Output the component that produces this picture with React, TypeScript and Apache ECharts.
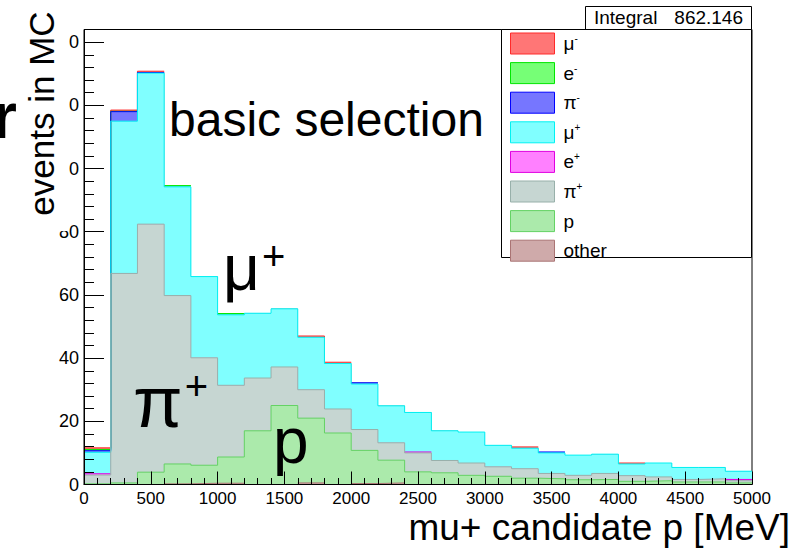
import React, { useEffect, useRef } from "react";
import * as echarts from "echarts";

// Histogram binning: 25 bins of 200 MeV from 0 to 5000 MeV
const binEdges = [
  0, 200, 400, 600, 800, 1000, 1200, 1400, 1600, 1800, 2000, 2200, 2400,
  2600, 2800, 3000, 3200, 3400, 3600, 3800, 4000, 4200, 4400, 4600, 4800, 5000,
];

// Events per bin for each true particle species of the mu+ candidate
const muMinusCounts = [0.5, 0.4, 0.4, 0, 0, 0, 0, 0, 0.4, 0.4, 0, 0, 0, 0, 0, 0, 0.4, 0, 0, 0, 0.3, 0, 0, 0, 0];
const eMinusCounts = [0.4, 0.1, 0, 0.4, 0, 0.4, 0, 0, 0, 0, 0, 0, 0, 0, 0, 0, 0, 0, 0, 0, 0, 0, 0, 0, 0];
const piMinusCounts = [0.5, 3.0, 0.2, 0, 0, 0, 0, 0, 0, 0, 0.4, 0, 0, 0, 0, 0, 0, 0.3, 0, 0, 0, 0, 0, 0, 0];
const muPlusCounts = [6.8, 48.2, 47.8, 34.4, 25.7, 22.3, 20.5, 18.4, 16.6, 14.4, 14.4, 11.7, 12.5, 9.4, 9.8, 6.8, 6.5, 6.5, 6.4, 6.1, 3.7, 4.4, 3.8, 3.6, 2.6];
const ePlusCounts = [0.4, 0, 0, 0, 0, 0, 0, 0, 0, 0, 0, 0, 0.3, 0, 0, 0, 0, 0, 0, 0, 0, 0, 0, 0, 0.4];
const piPlusCounts = [2.8, 66.3, 78.5, 53.3, 34.0, 22.7, 16.7, 12.2, 9.0, 7.6, 6.6, 5.5, 6.0, 3.9, 3.9, 3.0, 3.0, 1.7, 1.4, 1.9, 1.8, 1.2, 0.8, 1.0, 0.7];
const protonCounts = [0.2, 0.5, 3.9, 6.3, 5.7, 8.3, 17.0, 25.0, 20.5, 16.3, 10.5, 7.2, 4.0, 3.7, 2.9, 2.6, 2.0, 1.8, 1.5, 1.6, 1.0, 1.2, 0.8, 0.8, 0.5];
const otherCounts = [0, 0, 0, 0.2, 0.4, 0.4, 0, 0, 0.5, 0, 0.3, 0.5, 0, 0, 0, 0, 0, 0, 0, 0, 0, 0, 0, 0, 0];

const integralText = "862.146";

// Legend order (top of the stack first); the last entry sits at the bottom.
const layers = [
  { name: "μ-", values: muMinusCounts, fill: "#ff7676", edge: "#ff2a2a" },
  { name: "e-", values: eMinusCounts, fill: "#76ff76", edge: "#00e600" },
  { name: "π-", values: piMinusCounts, fill: "#7676ff", edge: "#0000ff" },
  { name: "μ+", values: muPlusCounts, fill: "#80ffff", edge: "#00f2f2" },
  { name: "e+", values: ePlusCounts, fill: "#ff80ff", edge: "#e000e0" },
  { name: "π+", values: piPlusCounts, fill: "#c6d6d2", edge: "#98b0aa" },
  { name: "p", values: protonCounts, fill: "#abeaab", edge: "#64d264" },
  { name: "other", values: otherCounts, fill: "#cfaaaa", edge: "#aa7474" },
];

const legendRich: Record<string, string> = {
  "μ-": "{t|μ}{s|-}",
  "e-": "{t|e}{s|-}",
  "π-": "{t|π}{s|-}",
  "μ+": "{t|μ}{s|+}",
  "e+": "{t|e}{s|+}",
  "π+": "{t|π}{s|+}",
  p: "{t|p}",
  other: "{t|other}",
};

const FONT = "'Liberation Sans', Arial, Helvetica, sans-serif";

export default function App() {
  const ref = useRef<HTMLDivElement>(null);

  useEffect(() => {
    if (!ref.current) return;
    const chart = echarts.init(ref.current, undefined, { renderer: "svg" });

    const nBins = binEdges.length - 1;
    // THStack-style drawing: each layer is painted as the cumulative sum of itself
    // and everything below it, from the top layer down, so lower layers cover upper ones.
    const cumulative = layers.map((_, i) => {
      const out: number[] = [];
      for (let b = 0; b < nBins; b++) {
        let s = 0;
        for (let k = i; k < layers.length; k++) s += layers[k].values[b];
        out.push(Math.round(s * 1000) / 1000);
      }
      return out;
    });

    const areaSeries = layers.map((layer, i) => {
      const cum = cumulative[i];
      const pts: [number, number][] = cum.map((v, b) => [binEdges[b], v]);
      pts.push([binEdges[nBins], cum[nBins - 1]]);
      return {
        type: "line",
        name: layer.name,
        step: "end",
        symbol: "none",
        showSymbol: false,
        data: pts,
        lineStyle: { width: 0, color: layer.fill },
        itemStyle: { color: layer.fill },
        areaStyle: { color: layer.fill, opacity: 1 },
        emphasis: { disabled: true },
        silent: true,
        z: 2,
      };
    });

    // Histogram outlines: only where a layer actually adds entries, since elsewhere
    // its edge coincides with the layer underneath.
    const outlineSeries = layers.map((layer, i) => {
      const cum = cumulative[i];
      const vals = layer.values;
      const pts: any[] = [];
      let open = false;
      for (let b = 0; b < nBins; b++) {
        if (vals[b] > 0) {
          if (!open && pts.length) pts.push([binEdges[b], "-"]);
          pts.push([binEdges[b], cum[b]]);
          pts.push([binEdges[b + 1], cum[b]]);
          open = true;
        } else {
          open = false;
        }
      }
      return {
        type: "line",
        name: layer.name + " edge",
        symbol: "none",
        showSymbol: false,
        connectNulls: false,
        data: pts,
        lineStyle: { color: layer.edge, width: 1 },
        itemStyle: { color: layer.edge },
        emphasis: { disabled: true },
        silent: true,
        z: 3,
      };
    });

    const option: any = {
      animation: false,
      backgroundColor: "#ffffff",
      grid: {
        left: 84,
        right: 42,
        top: 29.5,
        bottom: 68.5,
        show: true,
        borderColor: "#000",
        borderWidth: 1,
        backgroundColor: "transparent",
      },
      xAxis: [
        {
          type: "value",
          min: 0,
          max: 5000,
          interval: 500,
          z: 10,
          axisLine: { show: true, lineStyle: { color: "#000", width: 1 } },
          axisTick: { show: true, inside: true, length: 13, lineStyle: { color: "#000", width: 1 } },
          minorTick: { show: true, splitNumber: 5, length: 6.5, lineStyle: { color: "#000", width: 1 } },
          splitLine: { show: false },
          minorSplitLine: { show: false },
          axisLabel: {
            color: "#000",
            fontFamily: FONT,
            fontSize: 17,
            lineHeight: 17,
            margin: 5,
            formatter: (v: number) => String(v),
          },
        },
      ],
      yAxis: [
        {
          type: "value",
          min: 0,
          max: 144,
          interval: 20,
          z: 10,
          axisLine: { show: true, lineStyle: { color: "#000", width: 1 } },
          axisTick: { show: true, inside: true, length: 20, lineStyle: { color: "#000", width: 1 } },
          splitLine: { show: false },
          axisLabel: {
            color: "#000",
            fontFamily: FONT,
            fontSize: 18,
            margin: 5,
            showMaxLabel: false,
            formatter: (v: number) => String(v),
          },
        },
        {
          // minor ticks every 4 events
          type: "value",
          min: 0,
          max: 144,
          interval: 4,
          z: 10,
          position: "left",
          axisLine: { show: false },
          axisTick: { show: true, inside: true, length: 10, lineStyle: { color: "#000", width: 1 } },
          splitLine: { show: false },
          axisLabel: { show: false },
        },
      ],
      legend: {
        orient: "vertical",
        left: 510,
        top: 32.5,
        padding: 0,
        itemWidth: 44,
        itemHeight: 21,
        itemGap: 7.6,
        selectedMode: false,
        z: 20,
        data: layers.map((l) => ({
          name: l.name,
          icon: "rect",
          itemStyle: { color: l.fill, borderColor: l.edge, borderWidth: 1 },
        })),
        formatter: (name: string) => legendRich[name] ?? name,
        textStyle: {
          padding: [0, 0, 0, 4],
          rich: {
            t: { fontFamily: FONT, fontSize: 19, lineHeight: 20, color: "#000" },
            s: { fontFamily: FONT, fontSize: 10, lineHeight: 10, verticalAlign: "top", color: "#000" },
          },
        },
      },
      graphic: [
        // statistics box
        {
          type: "rect",
          z: 15,
          shape: { x: 585.5, y: 6.5, width: 166, height: 23 },
          style: { fill: "#fff", stroke: "#000", lineWidth: 1 },
        },
        {
          type: "text",
          z: 16,
          x: 594,
          y: 17,
          style: { text: "Integral", fontFamily: FONT, fontSize: 19, fill: "#000", align: "left", verticalAlign: "middle" },
        },
        {
          type: "text",
          z: 16,
          x: 743,
          y: 17,
          style: { text: integralText, fontFamily: FONT, fontSize: 19, fill: "#000", align: "right", verticalAlign: "middle" },
        },
        // legend frame
        {
          type: "rect",
          z: 15,
          shape: { x: 501.5, y: 29.5, width: 250, height: 228 },
          style: { fill: "#fff", stroke: "#000", lineWidth: 1 },
        },
        // y-axis title panel over the tick labels
        {
          type: "rect",
          z: 100,
          shape: { x: 14, y: 0, width: 55, height: 231 },
          style: { fill: "#fff" },
        },
        {
          type: "text",
          z: 101,
          x: 41,
          y: 113.5,
          rotation: Math.PI / 2,
          style: { text: "events in MC", fontFamily: FONT, fontSize: 35, fill: "#000", align: "center", verticalAlign: "middle" },
        },
        {
          type: "text",
          z: 101,
          x: -8,
          y: 116,
          style: { text: "r", fontFamily: FONT, fontWeight: "bold", fontSize: 64, fill: "#000", align: "left", verticalAlign: "middle" },
        },
        // annotations
        {
          type: "text",
          z: 30,
          x: 169,
          y: 119,
          style: { text: "basic selection", fontFamily: FONT, fontSize: 48, fill: "#000", align: "left", verticalAlign: "middle" },
        },
        {
          type: "text",
          z: 30,
          x: 223,
          y: 268,
          style: {
            text: "{g|μ}{s|+}",
            align: "left",
            verticalAlign: "middle",
            rich: {
              g: { fontFamily: FONT, fontSize: 64, lineHeight: 64, fill: "#000" },
              s: { fontFamily: FONT, fontSize: 40, lineHeight: 44, verticalAlign: "top", fill: "#000", padding: [0, 0, 0, 2] },
            },
          },
        },
        {
          type: "text",
          z: 30,
          x: 133,
          y: 402,
          style: {
            text: "{g|π}{s|+}",
            align: "left",
            verticalAlign: "middle",
            rich: {
              g: { fontFamily: FONT, fontSize: 72, lineHeight: 72, fill: "#000" },
              s: { fontFamily: FONT, fontSize: 40, lineHeight: 68, verticalAlign: "top", fill: "#000", padding: [0, 0, 0, 2] },
            },
          },
        },
        {
          type: "text",
          z: 30,
          x: 273,
          y: 441,
          style: { text: "p", fontFamily: FONT, fontSize: 64, fill: "#000", align: "left", verticalAlign: "middle" },
        },
        // x-axis title
        {
          type: "text",
          z: 30,
          x: 790,
          y: 527,
          style: {
            text: "mu+ candidate p [MeV]",
            fontFamily: FONT,
            fontSize: 37,
            lineHeight: 30,
            fill: "#000",
            align: "right",
            verticalAlign: "middle",
          },
        },
      ],
      series: [...areaSeries, ...outlineSeries],
    };

    chart.setOption(option);
    return () => chart.dispose();
  }, []);

  return (
    <div
      ref={ref}
      style={{ position: "absolute", left: 0, top: 0, width: 794, height: 553, background: "#fff" }}
    />
  );
}
